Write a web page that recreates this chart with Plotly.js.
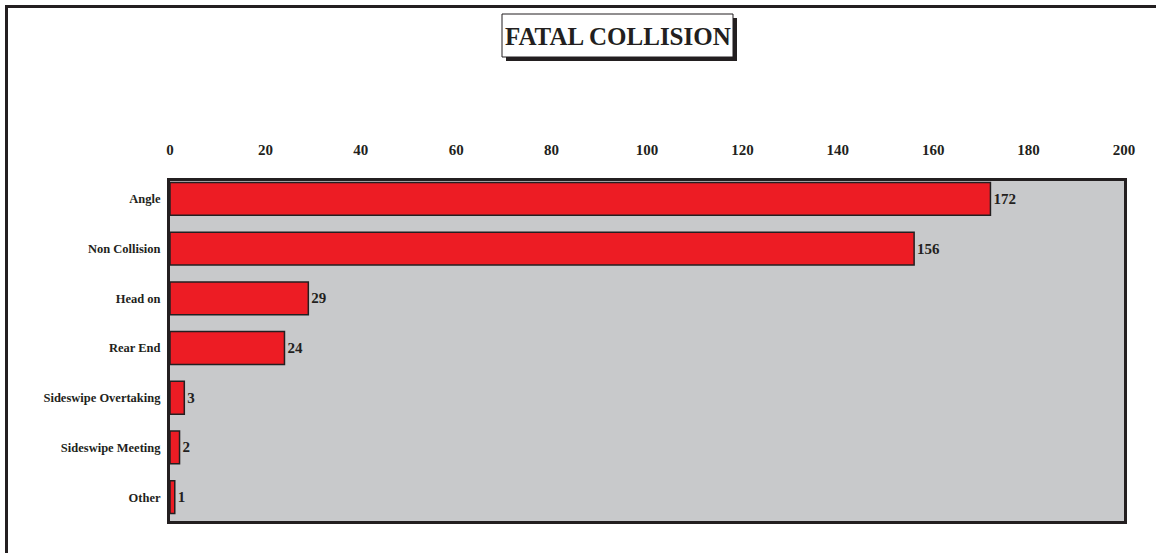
<!DOCTYPE html>
<html>
<head>
<meta charset="utf-8">
<script src="https://cdn.plot.ly/plotly-3.0.1.min.js"></script>
<style>
  html, body { margin: 0; padding: 0; background: #ffffff; }
  #wrap { position: relative; width: 1156px; height: 553px; }
  #chart { position: absolute; left: 0; top: 0; width: 1156px; height: 553px; }
  #frame { position: absolute; left: 5px; top: 5px; width: 1151px; height: 548px;
           border-left: 3px solid #231f20; border-top: 3px solid #231f20;
           box-sizing: border-box; pointer-events: none; }
</style>
</head>
<body>
<div id="wrap">
  <div id="chart"></div>
  <div id="frame"></div>
</div>
<script>
const categories = ["Angle", "Non Collision", "Head on", "Rear End", "Sideswipe Overtaking", "Sideswipe Meeting", "Other"];
const values = [172, 156, 29, 24, 3, 2, 1];
const xTicks = [0, 20, 40, 60, 80, 100, 120, 140, 160, 180, 200];
const titleText = "FATAL COLLISION";

const serif = "Liberation Serif, Times New Roman, serif";
const dark = "#231f20";

// plot-area pixel geometry (for converting title box pixels to paper coords)
const L = 170, R = 1124, T = 181, B = 521;
const px = v => (v - L) / (R - L);
const py = v => (B - v) / (B - T);

const trace = {
  type: "bar",
  orientation: "h",
  y: categories.map((c, i) => i),
  x: values,
  width: 0.66,
  marker: { color: "#ed1c24", line: { color: dark, width: 1.5 } },
  text: values.map(String),
  textposition: "outside",
  cliponaxis: false,
  textfont: { family: serif, size: 15, color: dark, weight: 700 },
  hoverinfo: "none"
};

const layout = {
  width: 1156,
  height: 553,
  margin: { l: L, r: 1156 - R, t: T, b: 553 - B },
  paper_bgcolor: "rgba(0,0,0,0)",
  plot_bgcolor: "#c8c9cb",
  showlegend: false,
  xaxis: {
    side: "top",
    range: [0, 200],
    tickvals: xTicks,
    ticktext: xTicks.map(String),
    showgrid: false,
    zeroline: false,
    showline: true,
    mirror: true,
    linecolor: dark,
    linewidth: 3,
    ticks: "outside",
    ticklen: 17,
    tickcolor: "rgba(0,0,0,0)",
    tickfont: { family: serif, size: 15, color: dark, weight: 700 }
  },
  yaxis: {
    range: [6.48, -0.36],
    tickvals: categories.map((c, i) => i),
    ticktext: categories,
    showgrid: false,
    zeroline: false,
    showline: true,
    mirror: true,
    linecolor: dark,
    linewidth: 3,
    ticks: "outside",
    ticklen: 4,
    tickcolor: "rgba(0,0,0,0)",
    tickfont: { family: serif, size: 12.5, color: dark, weight: 700 }
  },
  shapes: [
    {
      type: "rect", xref: "paper", yref: "paper", layer: "above",
      x0: px(506), x1: px(737), y0: py(18), y1: py(61),
      fillcolor: dark, line: { width: 0 }
    },
    {
      type: "rect", xref: "paper", yref: "paper", layer: "above",
      x0: px(502), x1: px(733), y0: py(14), y1: py(57),
      fillcolor: "#ffffff", line: { color: dark, width: 1 }
    }
  ],
  annotations: [
    {
      xref: "paper", yref: "paper",
      x: px(617.5), y: py(36),
      xanchor: "center", yanchor: "middle",
      text: titleText, showarrow: false,
      font: { family: serif, size: 25, color: dark, weight: 700 }
    }
  ]
};

Plotly.newPlot("chart", [trace], layout, { displayModeBar: false, staticPlot: true });
</script>
</body>
</html>
